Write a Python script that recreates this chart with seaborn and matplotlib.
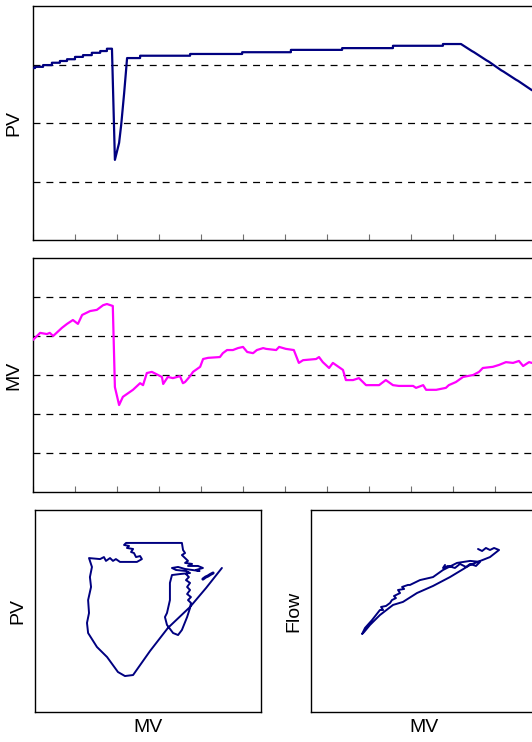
import numpy as np
import pandas as pd
import matplotlib
matplotlib.use("Agg")
import matplotlib.pyplot as plt
import seaborn as sns

# ---------------- data ----------------
# PV trend (time in tick units, value in grid units)
pv_t = [0.00, 0.05, 0.05, 0.24, 0.24, 0.45, 0.45, 0.64, 0.64, 0.81, 0.81, 1.00, 1.00, 1.19,
        1.19, 1.40, 1.40, 1.60, 1.60, 1.76, 1.76, 1.88,
        1.95, 2.05, 2.10, 2.17, 2.21, 2.24,
        2.55, 2.55, 3.74, 3.74, 4.98, 4.98, 6.14, 6.14, 7.36, 7.36, 8.57, 8.57, 9.76, 9.76,
        10.19, 10.45, 10.50, 10.80, 10.85, 11.15, 11.20, 11.50, 11.55, 11.88]
pv_v = [2.94, 2.94, 2.96, 2.96, 2.99, 2.99, 3.03, 3.03, 3.06, 3.06, 3.09, 3.09, 3.13, 3.13,
        3.16, 3.16, 3.20, 3.20, 3.23, 3.23, 3.27, 3.27,
        1.37, 1.66, 1.97, 2.51, 2.85, 3.11,
        3.11, 3.15, 3.15, 3.18, 3.18, 3.21, 3.21, 3.25, 3.25, 3.28, 3.28, 3.32, 3.32, 3.35,
        3.35, 3.23, 3.21, 3.07, 3.05, 2.90, 2.88, 2.74, 2.72, 2.56]

# MV trend
mv_t = [0.00, 0.17, 0.33, 0.40, 0.48, 0.69, 0.81, 0.95, 1.07, 1.17, 1.36, 1.52, 1.67, 1.76, 1.90,
        1.95, 2.05, 2.14, 2.38, 2.55, 2.62, 2.71, 2.83, 3.07, 3.10, 3.21, 3.33, 3.50, 3.57, 3.62,
        3.74, 3.81, 3.98, 4.05, 4.17, 4.45, 4.52, 4.62, 4.76, 4.88, 5.00, 5.10, 5.24, 5.33, 5.48,
        5.55, 5.79, 5.86, 6.02, 6.21, 6.33, 6.43, 6.74, 6.81, 6.90, 7.05, 7.14, 7.38, 7.45, 7.62,
        7.76, 7.93, 8.24, 8.40, 8.57, 8.71, 9.05, 9.12, 9.29, 9.36, 9.60, 9.83, 9.90, 10.07, 10.24,
        10.48, 10.62, 10.71, 10.95, 11.10, 11.26, 11.43, 11.57, 11.67, 11.81, 11.88]
mv_v = [3.90, 4.08, 4.05, 4.08, 4.00, 4.21, 4.31, 4.41, 4.31, 4.54, 4.64, 4.67, 4.79, 4.82, 4.77,
        2.69, 2.23, 2.44, 2.62, 2.79, 2.74, 3.05, 3.08, 2.95, 2.77, 2.95, 2.92, 2.97, 2.79, 2.82,
        2.97, 3.08, 3.21, 3.41, 3.44, 3.46, 3.56, 3.64, 3.64, 3.69, 3.72, 3.59, 3.56, 3.64, 3.69,
        3.67, 3.64, 3.72, 3.67, 3.64, 3.31, 3.38, 3.41, 3.46, 3.33, 3.18, 3.31, 3.13, 2.87, 2.87,
        2.92, 2.74, 2.74, 2.87, 2.74, 2.72, 2.72, 2.67, 2.74, 2.62, 2.62, 2.67, 2.74, 2.82, 2.95,
        3.00, 3.08, 3.18, 3.21, 3.26, 3.33, 3.31, 3.36, 3.23, 3.33, 3.31]

# PV vs MV phase plot
ph_mv = [82.7, 75.7, 68.6, 58.8, 50.9, 43.4, 39.8, 36.7, 31.9, 27.4, 23.5, 23.0, 23.9, 23.5,
         24.8, 24.3, 25.2, 23.9,
         28.8, 30.5, 31.4, 33.2, 34.5, 35.8, 37.6, 45.1,
         47.3, 46.5, 44.7, 43.8, 42.5, 43.4, 40.7, 41.6, 39.4, 40.3, 43.4, 65.0,
         65.5, 66.4, 65.0, 66.4,
         67.7, 66.4, 69.5, 67.7, 72.1, 74.3, 71.2, 72.8, 66.4, 63.3, 60.6, 62.4, 66.8, 68.6,
         64.2, 60.6,
         59.7, 59.7, 58.4, 57.5, 58.4, 61.1, 63.3, 65.0, 67.3, 68.6,
         69.0, 67.7, 69.0, 67.3, 68.6, 67.3, 68.6, 66.8, 68.1, 66.8, 67.7]
ph_pv = [71.3, 61.4, 52.0, 41.6, 30.2, 18.3, 17.8, 19.8, 27.2, 32.2, 39.1, 44.1, 49.0, 55.4,
         61.9, 66.8, 71.8, 76.2,
         75.7, 76.7, 74.8, 76.2, 74.8, 75.7, 74.3, 74.3,
         75.7, 77.2, 76.7, 78.7, 79.2, 80.7, 81.2, 82.2, 82.7, 83.7, 83.7, 83.7,
         80.2, 78.7, 77.7, 76.2,
         74.8, 73.8, 73.3, 72.3, 72.3, 71.3, 70.3, 69.8, 70.8, 71.8, 71.3, 70.3, 69.8, 68.8,
         68.3, 67.8,
         63.9, 55.4, 49.0, 47.0, 43.1, 39.1, 38.1, 40.6, 47.0, 51.5,
         54.0, 55.4, 56.9, 58.4, 60.4, 61.9, 63.9, 65.3, 66.8, 68.3, 69.3]
ph2_mv = [74.3, 75.5, 76.5, 77.6, 78.8]
ph2_pv = [65.8, 66.8, 67.3, 68.1, 68.8]

# Flow vs MV phase plot
fl_mv = [73.9, 75.7, 77.4, 79.2, 81.0, 83.2, 79.2, 70.4, 61.5, 54.0, 46.9, 40.7, 36.3, 30.5,
         26.1, 23.5, 22.6, 23.9, 27.0, 30.5, 31.9, 31.0, 33.2, 35.0,
         35.8, 37.6, 36.7, 39.4, 38.5, 41.2, 40.3, 42.9,
         43.8, 48.2, 54.0, 58.4, 64.6, 70.4, 74.8,
         73.0, 70.4, 68.6, 65.9, 63.7, 60.6, 58.4, 59.3]
fl_v = [80.7, 79.7, 81.2, 80.2, 81.2, 80.2, 76.7, 72.8, 66.8, 62.4, 58.9, 54.5, 53.0, 48.0,
        43.1, 39.6, 38.6, 41.6, 45.5, 50.5, 50.5, 52.0, 52.5, 54.0,
        55.4, 56.4, 57.4, 58.9, 60.4, 60.9, 61.9, 62.9,
        62.9, 65.3, 66.8, 70.3, 73.8, 74.8, 74.3,
        72.3, 73.3, 71.8, 73.3, 71.3, 72.3, 71.3, 72.8]

# ---------------- style ----------------
sns.set_style("white")
plt.rcParams["font.family"] = ["Liberation Sans", "DejaVu Sans"]
plt.rcParams["text.color"] = "black"
plt.rcParams["axes.labelcolor"] = "black"
plt.rcParams["lines.scale_dashes"] = False

NAVY = "#000080"
MAGENTA = "#FF00FF"

fig = plt.figure(figsize=(5.32, 7.42), dpi=100)
W, H = 532.0, 742.0

def axes_px(x0, y0, x1, y1):
    return fig.add_axes([x0 / W, 1 - y1 / H, (x1 - x0) / W, (y1 - y0) / H])

ax1 = axes_px(33, 6, 537, 240)
ax2 = axes_px(33, 258, 537, 492)
ax3 = axes_px(35, 510, 261, 712)
ax4 = axes_px(311, 510, 537, 712)

def trend_axes(ax, ylim, yticks, label):
    ax.set_xlim(0, 12)
    ax.set_ylim(*ylim)
    ax.set_xticks(range(0, 13))
    ax.set_xticklabels([])
    ax.set_yticks(yticks)
    ax.set_yticklabels([])
    ax.tick_params(axis="x", direction="in", length=4, width=0.8, color="#707070", bottom=True)
    ax.tick_params(axis="y", length=0)
    for y in yticks:
        ax.axhline(y, color="black", lw=0.9, dashes=(5.0, 4.3), zorder=1)
    ax.set_xlabel("")
    ax.set_ylabel(label, fontsize=14, labelpad=4)
    for s in ax.spines.values():
        s.set_color("black")
        s.set_linewidth(1.0)

df_pv = pd.DataFrame({"t": pv_t, "v": pv_v})
df_mv = pd.DataFrame({"t": mv_t, "v": mv_v})
sns.lineplot(data=df_pv, x="t", y="v", sort=False, estimator=None, color=NAVY, lw=1.6, ax=ax1, zorder=3)
sns.lineplot(data=df_mv, x="t", y="v", sort=False, estimator=None, color=MAGENTA, lw=1.6, ax=ax2, zorder=3)
trend_axes(ax1, (0, 4), [1, 2, 3], "PV")
trend_axes(ax2, (0, 6), [1, 2, 3, 4, 5], "MV")

def phase_axes(ax, ylabel):
    ax.set_xlim(0, 100)
    ax.set_ylim(0, 100)
    ax.set_xticks([])
    ax.set_yticks([])
    ax.set_xlabel("MV", fontsize=14, labelpad=5)
    ax.set_ylabel(ylabel, fontsize=14, labelpad=6)
    for s in ax.spines.values():
        s.set_color("black")
        s.set_linewidth(1.0)

sns.lineplot(x=ph_mv, y=ph_pv, sort=False, estimator=None, color=NAVY, lw=1.4, ax=ax3)
sns.lineplot(x=ph2_mv, y=ph2_pv, sort=False, estimator=None, color=NAVY, lw=2.2, ax=ax3)
phase_axes(ax3, "PV")

sns.lineplot(x=fl_mv, y=fl_v, sort=False, estimator=None, color=NAVY, lw=1.4, ax=ax4)
phase_axes(ax4, "Flow")

fig.savefig("out.png", dpi=100)
